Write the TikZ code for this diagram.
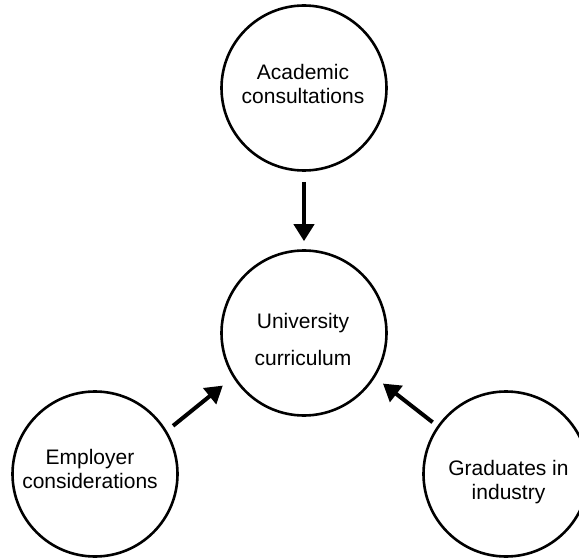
\documentclass[tikz,border=0pt]{standalone}
\usepackage{fontspec}
\setmainfont{Liberation Sans}
\usetikzlibrary{arrows.meta}
\begin{document}
\begin{tikzpicture}[x=1pt,y=-1pt,
  bubble/.style={circle,draw=black,line width=2.6pt,minimum size=165pt,inner sep=0pt},
  caption/.style={align=center,inner sep=0pt,font=\fontsize{21}{24}\selectfont},
  feed/.style={line width=4pt,-{Triangle[length=17pt,width=20pt]}}]
  \useasboundingbox (0,0) rectangle (579,559);
  \clip (0,0) rectangle (579,559);
  % four circles
  \node[bubble] (acad) at (304,88) {};
  \node[bubble] (uni) at (304,333) {};
  \node[bubble] (emp) at (95,474) {};
  \node[bubble] (grad) at (506,474) {};
  % their captions
  \node[caption] (acadtext) at ([shift={(-1,-3.6)}]acad.center) {Academic\\consultations};
  \node[caption] (unitext) at ([shift={(-1,6.5)}]uni.center) {University\\[13pt]curriculum};
  \node[caption] (emptext) at ([shift={(-5,-4.6)}]emp.center) {Employer\\considerations};
  \node[caption] (gradtext) at ([shift={(2.5,8.5)}]grad.center) {Graduates in\\industry};
  % arrows into the curriculum
  \draw[feed,shorten <=10pt,shorten >=8pt] (acad.270) -- (uni.90);
  \draw[feed,shorten <=8pt,shorten >=13pt] (emp.31) -- (uni.212);
  \draw[feed,shorten <=6pt,shorten >=10pt] (grad.145) -- (uni.328);
\end{tikzpicture}
\end{document}
